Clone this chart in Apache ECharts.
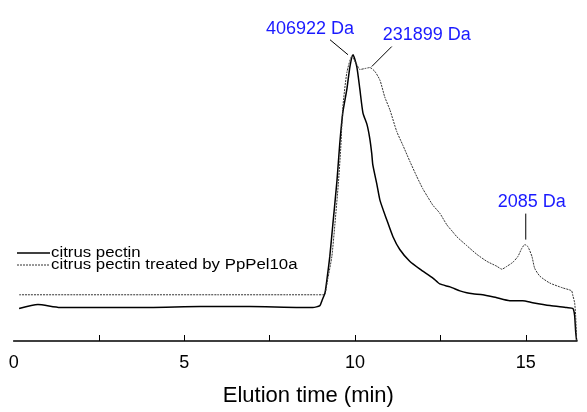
<!DOCTYPE html>
<html>
<head>
<meta charset="utf-8">
<script src="https://cdn.jsdelivr.net/npm/echarts@6/dist/echarts.min.js"></script>
<style>
html,body{margin:0;padding:0;background:#fff;}
#main{width:587px;height:412px;}
</style>
</head>
<body>
<div id="main"></div>
<script>
// Elution time (min) and detector response (arbitrary units)
const seriesNames = ['citrus pectin', 'citrus pectin treated by PpPel10a'];

const solidTime = [0.16,0.71,1.36,2.53,3.99,5.46,6.92,8.38,8.76,8.97,9.03,9.12,9.17,9.26,9.35,9.47,9.55,9.64,9.76,9.85,9.94,10.05,10.14,10.23,10.35,10.43,10.49,10.52,10.64,10.73,10.93,11.11,11.31,11.6,11.9,12.28,12.48,12.78,13.07,13.27,13.45,13.74,14.03,14.15,14.53,14.91,15.2,15.71,16.2,16.38,16.43,16.46,16.49];
const solidValue = [33,37,34,34,34,35,35,34,34,36,41,49,61,86,119,163,200,232,256,279,291,279,256,232,220,206,190,179,159,143,123,106,93,81,73,64,58,55,51,49,48,47,45,44,41,41,39,36,34,33,26,10,0];

const treatedTime = [0.16,2,4,6,8,8.9,9.05,9.12,9.2,9.32,9.41,9.51,9.58,9.64,9.76,9.91,9.94,10.05,10.14,10.29,10.43,10.58,10.73,10.87,11.02,11.22,11.4,11.6,11.81,11.98,12.1,12.28,12.48,12.69,12.86,12.98,13.27,13.57,13.86,14.15,14.3,14.45,14.62,14.77,14.88,14.97,15.06,15.18,15.26,15.41,15.7,16.08,16.34,16.38,16.43,16.46,16.49];
const treatedValue = [47,47,47,47,47,47,47,48,63,86,119,160,196,237,273,290,288,281,276,277,278,274,265,248,235,213,199,183,167,155,148,138,130,118,111,106,97,88,81,76,73,76,80,86,94,98,96,86,74,66,59,54,51,46,39,26,0];

const xTickValues = [2.5,5,7.5,10,12.5,15];
const xLabelValues = [0,5,10,15];

// annotations: label, series index, time of the marked point
const annotLabels = ['406922 Da','231899 Da','2085 Da'];
const annotSeries = [0,1,1];
const annotTime = [9.94,10.43,14.97];

const chart = echarts.init(document.getElementById('main'));
const FONT = '"Liberation Sans", Arial, sans-serif';

function pairs(t, v){ return t.map((x,i)=>[x, v[i]]); }
const allData = [pairs(solidTime, solidValue), pairs(treatedTime, treatedValue)];

const solidStyle = {color: '#000', width: 1.5};
const dashStyle = {color: '#333', width: 1, type: [2,1]};

chart.setOption({
  animation: false,
  backgroundColor: '#fff',
  grid: {left: 13.65, right: 10, top: 40, bottom: 66, containLabel: false},
  xAxis: {
    type: 'value', min: 0, max: 16.5,
    axisLine: {show: true, lineStyle: {color: '#000', width: 1.5}},
    axisTick: {show: true, inside: true, length: 6, lineStyle: {color:'#000', width: 1}, customValues: xTickValues},
    axisLabel: {fontFamily: FONT, fontSize: 18, color: '#000', margin: 13, customValues: xLabelValues},
    splitLine: {show: false},
    name: 'Elution time (min)', nameLocation: 'middle', nameGap: 44,
    nameTextStyle: {fontFamily: FONT, fontSize: 22, color: '#000', padding: [0,0,0,26]}
  },
  yAxis: {type: 'value', min: 0, max: 306, show: false},
  series: [
    {name: seriesNames[0], type: 'line', data: allData[0], showSymbol: false, symbol: 'none', smooth: 0.2,
     lineStyle: solidStyle},
    {name: seriesNames[1], type: 'line', data: allData[1], showSymbol: false, symbol: 'none', smooth: 0.2,
     lineStyle: dashStyle}
  ]
});

// annotation offsets in pixels relative to the marked data point
const lineFrom = [[-5,0],[2,-1],[1,-5]];
const lineTo = [[-23,-15],[22,-21],[1,-31]];
const textAt = [[-43,-26],[57,-33],[7,-43]];

const g = [];
annotLabels.forEach((lab, i) => {
  const s = annotSeries[i];
  const idx = (s===0?solidTime:treatedTime).indexOf(annotTime[i]);
  const val = (s===0?solidValue:treatedValue)[idx];
  const p = chart.convertToPixel({gridIndex:0}, [annotTime[i], val]);
  g.push({type:'line', shape:{x1:p[0]+lineFrom[i][0], y1:p[1]+lineFrom[i][1], x2:p[0]+lineTo[i][0], y2:p[1]+lineTo[i][1]},
          style:{stroke:'#000', lineWidth:1}});
  g.push({type:'text', x:p[0]+textAt[i][0], y:p[1]+textAt[i][1],
          style:{text:lab, fill:'#1a1aff', fontSize:18, fontFamily: FONT, align:'center', verticalAlign:'middle'}});
});

// legend (line sample + name)
const legendRowY = [253, 265];
const legendStyles = [solidStyle, dashStyle];
seriesNames.forEach((n, i) => {
  const ls = legendStyles[i];
  g.push({type:'line', shape:{x1:17, y1:legendRowY[i], x2:50, y2:legendRowY[i]},
          style:{stroke:ls.color, lineWidth:ls.width, lineDash: ls.type && typeof ls.type !== 'string' ? ls.type : null}});
  g.push({type:'text', x:51, y:legendRowY[i], scaleX: 1.2,
          style:{text:n, fill:'#000', fontSize:14, fontFamily: FONT, align:'left', verticalAlign:'middle'}});
});
chart.setOption({graphic: g});
</script>
</body>
</html>
